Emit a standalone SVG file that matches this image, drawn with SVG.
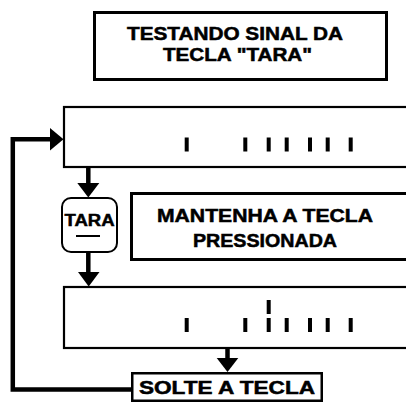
<svg xmlns="http://www.w3.org/2000/svg" width="406" height="405" viewBox="0 0 406 405">
<style>
.box{fill:#fff;stroke:#000}
.t{font-family:"Liberation Sans",Arial,sans-serif;font-weight:bold;fill:#000;stroke:#000;stroke-width:0.5;text-anchor:middle}
.tick{fill:#000}
.conn{fill:none;stroke:#000;stroke-width:4.5}
.head{fill:#000}
</style>
<rect width="406" height="405" fill="#fff"/>
<g id="title">
<rect class="box" x="94.5" y="12.5" width="292" height="67" stroke-width="3"/>
<text class="t" x="235" y="40" font-size="17.5" textLength="216" lengthAdjust="spacingAndGlyphs">TESTANDO SINAL DA</text>
<text class="t" x="237.5" y="61" font-size="17.5" textLength="149" lengthAdjust="spacingAndGlyphs">TECLA "TARA"</text>
</g>
<g id="display1">
<rect class="box" x="64" y="107" width="350" height="60" stroke-width="2.2"/>
<g class="tick">
<rect x="184.7" y="137.5" width="4" height="14"/>
<rect x="243.3" y="137.5" width="4" height="14"/>
<rect x="266.7" y="137.5" width="4" height="14"/>
<rect x="284.7" y="137.5" width="4" height="14"/>
<rect x="308" y="137.5" width="4" height="14"/>
<rect x="325.7" y="137.5" width="4" height="14"/>
<rect x="348.7" y="137.5" width="4" height="14"/>
</g>
</g>
<g id="key">
<rect class="box" x="62" y="198" width="55" height="54" rx="9" stroke-width="2"/>
<text class="t" x="89.5" y="226" font-size="16" textLength="50" lengthAdjust="spacingAndGlyphs">TARA</text>
<rect x="76" y="235" width="24" height="2" fill="#000"/>
</g>
<g id="hold">
<rect class="box" x="131.5" y="193.5" width="300" height="66" stroke-width="3"/>
<text class="t" x="265" y="222" font-size="17.5" textLength="216" lengthAdjust="spacingAndGlyphs">MANTENHA A TECLA</text>
<text class="t" x="265" y="247" font-size="17.5" textLength="144" lengthAdjust="spacingAndGlyphs">PRESSIONADA</text>
</g>
<g id="display2">
<rect class="box" x="64" y="287" width="350" height="61" stroke-width="2.2"/>
<g class="tick">
<rect x="184.7" y="318" width="4" height="14"/>
<rect x="243.3" y="318" width="4" height="14"/>
<rect x="266.7" y="300" width="4" height="14"/>
<rect x="266.7" y="318" width="4" height="14"/>
<rect x="284.7" y="318" width="4" height="14"/>
<rect x="308" y="318" width="4" height="14"/>
<rect x="325.7" y="318" width="4" height="14"/>
<rect x="348.7" y="318" width="4" height="14"/>
</g>
</g>
<g id="release">
<rect class="box" x="132.25" y="373.25" width="189.5" height="27.5" stroke-width="2.5"/>
<text class="t" x="227" y="394" font-size="17.5" textLength="176" lengthAdjust="spacingAndGlyphs">SOLTE A TECLA</text>
</g>
<g id="connectors">
<path class="conn" d="M88.3 168 V184"/>
<polygon class="head" points="77.3,183 99.3,183 88.3,197.5"/>
<path class="conn" d="M88.3 253 V273"/>
<polygon class="head" points="78,272 99.5,272 88.7,286.5"/>
<path class="conn" d="M227.5 349 V359"/>
<polygon class="head" points="216.7,358 238.3,358 227.5,372"/>
<path class="conn" d="M131 389.5 H12.8 V139.3 H51"/>
<polygon class="head" points="50,128 63.5,139.3 50,150.5"/>
</g>
</svg>
